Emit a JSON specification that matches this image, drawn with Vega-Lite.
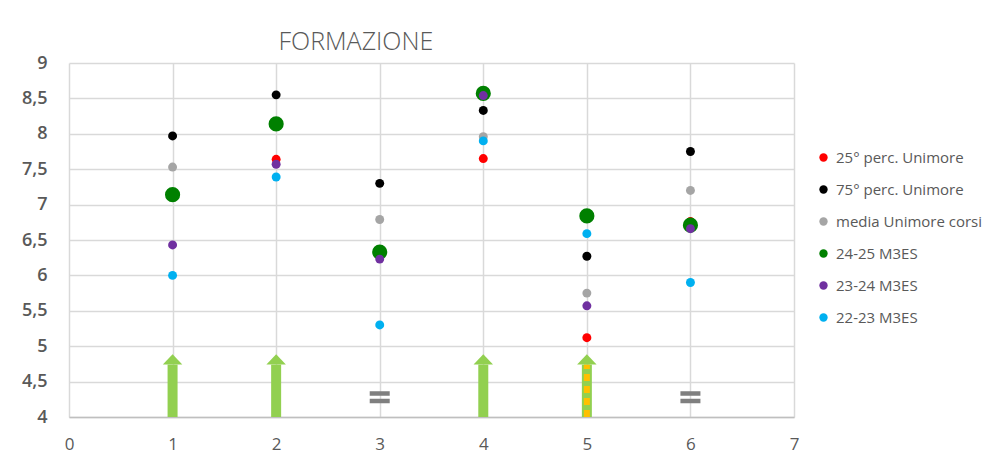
{
  "$schema": "https://vega.github.io/schema/vega-lite/v6.json",
  "autosize": {"type": "none"},
  "padding": {"left": 69, "top": 63, "right": 191, "bottom": 57},
  "width": 725,
  "height": 354,
  "background": "white",
  "title": {
    "text": "FORMAZIONE",
    "anchor": "start",
    "dx": 257,
    "offset": -1,
    "font": "Open Sans",
    "fontSize": 25,
    "fontWeight": 300,
    "color": "#595959"
  },
  "config": {
    "view": {"stroke": null},
    "font": "Open Sans"
  },
  "datasets": {
    "pts": [
      {"x": 1, "y": 7.14, "serie": "25° perc. Unimore"},
      {"x": 2, "y": 7.64, "serie": "25° perc. Unimore"},
      {"x": 4, "y": 7.65, "serie": "25° perc. Unimore"},
      {"x": 5, "y": 5.12, "serie": "25° perc. Unimore"},
      {"x": 6, "y": 6.76, "serie": "25° perc. Unimore"},
      {"x": 1, "y": 7.97, "serie": "75° perc. Unimore"},
      {"x": 2, "y": 8.55, "serie": "75° perc. Unimore"},
      {"x": 3, "y": 7.3, "serie": "75° perc. Unimore"},
      {"x": 4, "y": 8.33, "serie": "75° perc. Unimore"},
      {"x": 5, "y": 6.27, "serie": "75° perc. Unimore"},
      {"x": 6, "y": 7.75, "serie": "75° perc. Unimore"},
      {"x": 1, "y": 7.53, "serie": "media Unimore corsi"},
      {"x": 2, "y": 8.14, "serie": "media Unimore corsi"},
      {"x": 3, "y": 6.79, "serie": "media Unimore corsi"},
      {"x": 4, "y": 7.96, "serie": "media Unimore corsi"},
      {"x": 5, "y": 5.75, "serie": "media Unimore corsi"},
      {"x": 6, "y": 7.2, "serie": "media Unimore corsi"},
      {"x": 1, "y": 7.14, "serie": "24-25 M3ES"},
      {"x": 2, "y": 8.14, "serie": "24-25 M3ES"},
      {"x": 3, "y": 6.33, "serie": "24-25 M3ES"},
      {"x": 4, "y": 8.57, "serie": "24-25 M3ES"},
      {"x": 5, "y": 6.84, "serie": "24-25 M3ES"},
      {"x": 6, "y": 6.71, "serie": "24-25 M3ES"},
      {"x": 1, "y": 6.43, "serie": "23-24 M3ES"},
      {"x": 2, "y": 7.57, "serie": "23-24 M3ES"},
      {"x": 3, "y": 6.23, "serie": "23-24 M3ES"},
      {"x": 4, "y": 8.54, "serie": "23-24 M3ES"},
      {"x": 5, "y": 5.57, "serie": "23-24 M3ES"},
      {"x": 6, "y": 6.66, "serie": "23-24 M3ES"},
      {"x": 1, "y": 6.0, "serie": "22-23 M3ES"},
      {"x": 2, "y": 7.39, "serie": "22-23 M3ES"},
      {"x": 3, "y": 5.3, "serie": "22-23 M3ES"},
      {"x": 4, "y": 7.9, "serie": "22-23 M3ES"},
      {"x": 5, "y": 6.59, "serie": "22-23 M3ES"},
      {"x": 6, "y": 5.9, "serie": "22-23 M3ES"}
    ],
    "shafts": [
      {"x": 1, "y": 4, "yend": 4.74, "kind": "up"},
      {"x": 2, "y": 4, "yend": 4.74, "kind": "up"},
      {"x": 4, "y": 4, "yend": 4.74, "kind": "up"},
      {"x": 5, "y": 4, "yend": 4.74, "kind": "striped"}
    ],
    "heads": [
      {"x": 1, "y": 4.74},
      {"x": 2, "y": 4.74},
      {"x": 4, "y": 4.74},
      {"x": 5, "y": 4.74}
    ],
    "equals": [
      {"x": 3, "y": 4.28},
      {"x": 6, "y": 4.28}
    ]
  },
  "encoding": {
    "x": {"field": "x", "type": "quantitative", "scale": {"domain": [0, 7]},
      "axis": {"values": [0,1,2,3,4,5,6,7], "format": "d", "grid": true, "gridColor": "#D9D9D9", "gridWidth": 1.5,
        "domainColor": "#BFBFBF", "domainWidth": 1.5, "ticks": false, "labelPadding": 19,
        "labelFontSize": 17, "labelColor": "#595959", "labelFont": "Open Sans", "title": null,
        "labelOverlap": false, "labelFlush": false}},
    "y": {"field": "y", "type": "quantitative", "scale": {"domain": [4, 9]},
      "axis": {"values": [4,4.5,5,5.5,6,6.5,7,7.5,8,8.5,9], "grid": true, "gridColor": "#D9D9D9", "gridWidth": 1.5,
        "domain": false, "ticks": false, "labelPadding": 22, "labelFontSize": 18, "labelFontWeight": 600,
        "labelColor": "#595959", "labelFont": "Open Sans", "title": null, "labelOverlap": false, "labelFlush": false,
        "labelExpr": "replace(format(datum.value, '.1~f'), '.', ',')"}}
  },
  "layer": [
    {
      "data": {"name": "shafts"},
      "mark": {"type": "rule", "color": "#92D050", "strokeWidth": 10, "strokeCap": "butt"},
      "encoding": {
        "y2": {"field": "yend"}
      }
    },
    {
      "data": {"name": "shafts"},
      "transform": [{"filter": "datum.kind === 'striped'"}],
      "mark": {"type": "rule", "color": "#FFC000", "strokeWidth": 6, "strokeCap": "butt", "strokeDash": [7, 5]},
      "encoding": {
        "y2": {"field": "yend"}
      }
    },
    {
      "data": {"name": "heads"},
      "mark": {"type": "point", "filled": true, "opacity": 1, "color": "#92D050", "shape": "M-1,0L1,0L0,-1.05Z", "size": 380, "strokeWidth": 0}
    },
    {
      "data": {"name": "equals"},
      "mark": {"type": "point", "filled": true, "opacity": 1, "color": "#7F7F7F", "shape": "M-1,-0.6L1,-0.6L1,-0.15L-1,-0.15Z M-1,0.15L1,0.15L1,0.6L-1,0.6Z", "size": 400, "strokeWidth": 0}
    },
    {
      "data": {"name": "pts"},
      "mark": {"type": "point", "filled": true, "opacity": 1, "strokeWidth": 0},
      "encoding": {
        "color": {
          "field": "serie", "type": "nominal",
          "scale": {
            "domain": ["25° perc. Unimore", "75° perc. Unimore", "media Unimore corsi", "24-25 M3ES", "23-24 M3ES", "22-23 M3ES"],
            "range": ["#FF0000", "#000000", "#A5A5A5", "#008000", "#7030A0", "#00B0F0"]
          },
          "legend": {
            "title": null, "orient": "none", "legendX": 747, "legendY": 87,
            "symbolType": "circle", "symbolSize": 70, "symbolStrokeWidth": 0,
            "labelFont": "Open Sans", "labelFontSize": 15, "labelColor": "#595959",
            "labelOffset": 5, "rowPadding": 16
          }
        },
        "size": {
          "condition": {"test": "datum.serie === '24-25 M3ES'", "value": 230},
          "value": 80
        }
      }
    }
  ]
}
